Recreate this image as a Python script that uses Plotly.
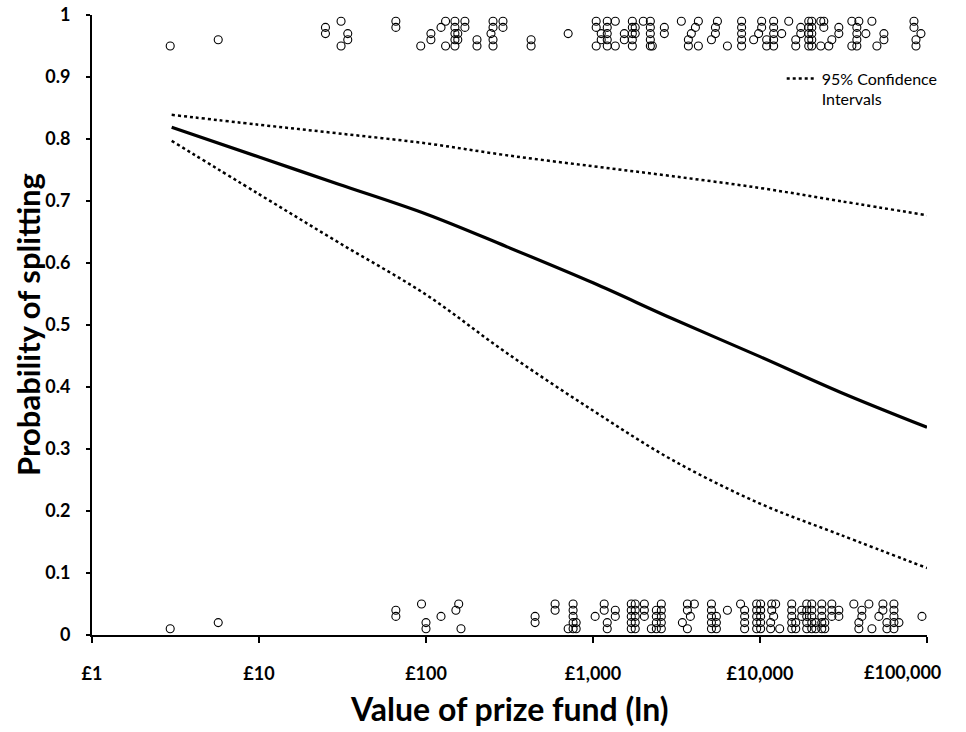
import plotly.graph_objects as go

# ---- fitted curve and confidence intervals ----
curve_x = [3, 10, 30, 100, 300, 1000, 3000, 10000, 30000, 100000]
prob_fit = [0.819, 0.771, 0.727, 0.679, 0.627, 0.568, 0.510, 0.449, 0.392, 0.335]
ci_upper = [0.839, 0.823, 0.809, 0.793, 0.774, 0.756, 0.740, 0.721, 0.700, 0.677]
ci_lower = [0.797, 0.711, 0.633, 0.549, 0.456, 0.362, 0.282, 0.212, 0.162, 0.108]

# ---- observed outcomes: split (top, jittered 0.95-0.99) ----
split_fund = [2.94, 5.7, 25, 31, 34, 66, 93, 107, 123, 131, 149, 155, 171, 202, 245, 252,
              289, 426, 710, 1045, 1120, 1217, 1360, 1540, 1720, 1790, 2000, 2205, 2265,
              2675, 3380, 3725, 3880, 4105, 4275, 5120, 5410, 5560, 6380, 7760, 9160, 9810,
              10230, 10960, 12070, 13490, 14860, 16370, 17540, 19580, 20420, 23120, 24100,
              25820, 26920, 29650, 35480, 38020, 39080, 43050, 46780, 50120, 55210, 83560,
              85900, 92000]
split_jitter = [[0.95], [0.96], [0.98, 0.97], [0.99, 0.95], [0.97, 0.96], [0.99, 0.98], [0.95],
                [0.97, 0.96], [0.98], [0.99, 0.95], [0.99, 0.98, 0.97, 0.96, 0.95], [0.97, 0.96],
                [0.99, 0.98], [0.96, 0.95], [0.97], [0.99, 0.98, 0.96, 0.95], [0.99, 0.98],
                [0.96, 0.95], [0.97], [0.99, 0.98, 0.95], [0.97, 0.96],
                [0.99, 0.98, 0.97, 0.96, 0.95], [0.99, 0.95], [0.97, 0.96],
                [0.99, 0.98, 0.97, 0.96, 0.95], [0.98, 0.97], [0.99],
                [0.99, 0.98, 0.97, 0.96, 0.95], [0.95], [0.98, 0.97], [0.99], [0.96, 0.95],
                [0.97], [0.98], [0.99, 0.95], [0.96], [0.98, 0.97], [0.99], [0.95],
                [0.99, 0.98, 0.97, 0.96, 0.95], [0.96], [0.97], [0.99, 0.98], [0.96, 0.95],
                [0.99, 0.98, 0.97, 0.96, 0.95], [0.97], [0.99], [0.96, 0.95], [0.98, 0.97],
                [0.99, 0.98, 0.97, 0.96, 0.95], [0.99, 0.98, 0.97, 0.96, 0.95], [0.99, 0.95],
                [0.99, 0.98], [0.95], [0.96], [0.98, 0.97], [0.99, 0.95],
                [0.98, 0.97, 0.96, 0.95], [0.99], [0.97], [0.99], [0.95], [0.97, 0.96],
                [0.99, 0.98], [0.96, 0.95], [0.97]]

# ---- observed outcomes: steal (bottom, jittered 0.01-0.05) ----
steal_fund = [2.94, 5.7, 66, 94, 100, 123, 151, 157, 162, 450, 593, 710, 760, 793, 1030, 1167,
              1217, 1360, 1695, 1790, 2030, 2235, 2395, 2565, 3430, 3675, 3830, 4045, 5120,
              5480, 6380, 7650, 8090, 9550, 10090, 11580, 11750, 12070, 12410, 13120, 15490,
              16370, 17780, 19050, 20420, 21580, 23440, 24430, 26920, 29650, 36480, 39080,
              40740, 44880, 46780, 51520, 54450, 57540, 63390, 67920, 93300]
steal_jitter = [[0.01], [0.02], [0.04, 0.03], [0.05], [0.02, 0.01], [0.03], [0.04], [0.05],
                [0.01], [0.03, 0.02], [0.05, 0.04], [0.01], [0.05, 0.04, 0.03, 0.02, 0.01],
                [0.02, 0.01], [0.03], [0.05, 0.04], [0.02, 0.01], [0.04, 0.03],
                [0.05, 0.04, 0.03, 0.02, 0.01], [0.05, 0.04, 0.03, 0.02, 0.01],
                [0.05, 0.04, 0.03], [0.01], [0.04, 0.03, 0.02, 0.01],
                [0.05, 0.04, 0.03, 0.02, 0.01], [0.02], [0.05, 0.04, 0.01], [0.03], [0.05],
                [0.05, 0.04, 0.03, 0.02, 0.01], [0.03, 0.02, 0.01], [0.04], [0.05],
                [0.04, 0.03, 0.02, 0.01], [0.05, 0.04, 0.03, 0.02, 0.01],
                [0.05, 0.04, 0.03, 0.02, 0.01], [0.02, 0.01], [0.05, 0.04], [0.03], [0.05],
                [0.01], [0.05, 0.04, 0.03, 0.02, 0.01], [0.02, 0.01], [0.04, 0.03],
                [0.05, 0.04, 0.03, 0.02, 0.01], [0.05, 0.04, 0.03, 0.02, 0.01], [0.02, 0.01],
                [0.05, 0.04, 0.03, 0.02, 0.01], [0.02, 0.01], [0.05, 0.04, 0.03], [0.04, 0.03],
                [0.05], [0.02, 0.01], [0.04, 0.03], [0.05], [0.01], [0.03], [0.05, 0.04],
                [0.02, 0.01], [0.05, 0.04, 0.03, 0.02, 0.01], [0.02], [0.03]]

x_tickvals = [1, 10, 100, 1000, 10000, 100000]
x_ticktext = ["£1", "£10", "£100", "£1,000", "£10,000", "£100,000"]
y_tickvals = [0, 0.1, 0.2, 0.3, 0.4, 0.5, 0.6, 0.7, 0.8, 0.9, 1]
y_ticktext = ["0", "0.1", "0.2", "0.3", "0.4", "0.5", "0.6", "0.7", "0.8", "0.9", "1"]


def flatten(funds, jitters):
    xs, ys = [], []
    for f, js in zip(funds, jitters):
        for j in js:
            xs.append(f)
            ys.append(j)
    return xs, ys


sx, sy = flatten(split_fund, split_jitter)
tx, ty = flatten(steal_fund, steal_jitter)

# the last x label is pulled inside the chart (as in the original): draw it as an annotation
x_labels = list(x_ticktext[:-1]) + [""]

FONT = "Lato, 'Open Sans', sans-serif"
TICKFONT = dict(size=18, weight="bold", family=FONT, color="black")
fig = go.Figure()

marker = dict(symbol="circle-open", size=8, color="black", line=dict(width=1.1, color="black"))
fig.add_trace(go.Scatter(x=sx, y=sy, mode="markers", marker=marker, showlegend=False,
                         cliponaxis=False))
fig.add_trace(go.Scatter(x=tx, y=ty, mode="markers", marker=marker, showlegend=False,
                         cliponaxis=False))

fig.add_trace(go.Scatter(x=curve_x, y=ci_upper, mode="lines", line_shape="spline",
                         line=dict(color="black", width=2.5, dash="dot"),
                         name="95% Confidence<br>Intervals", showlegend=True))
fig.add_trace(go.Scatter(x=curve_x, y=ci_lower, mode="lines", line_shape="spline",
                         line=dict(color="black", width=2.5, dash="dot"), showlegend=False))
fig.add_trace(go.Scatter(x=curve_x, y=prob_fit, mode="lines", line_shape="spline",
                         line=dict(color="black", width=3.2), showlegend=False))

fig.update_layout(
    width=966, height=732,
    margin=dict(l=92, r=39, t=15, b=97),
    paper_bgcolor="white", plot_bgcolor="white",
    font=dict(family=FONT, color="black"),
    legend=dict(x=0.826, y=0.925, xanchor="left", yanchor="top", valign="top",
                bgcolor="rgba(0,0,0,0)", font=dict(size=16, family=FONT)),
    xaxis=dict(type="log", range=[0, 5], tickvals=x_tickvals, ticktext=x_labels,
               automargin=False,
               showgrid=False, zeroline=False, showline=True, linecolor="black", linewidth=2,
               ticks="outside", ticklen=6, tickwidth=2, tickcolor="black",
               ticklabelstandoff=15, tickfont=TICKFONT),
    yaxis=dict(range=[0, 1], tickvals=y_tickvals, ticktext=y_ticktext,
               automargin=False,
               showgrid=False, zeroline=False, showline=True, linecolor="black", linewidth=2,
               ticks="outside", ticklen=4, tickwidth=2, tickcolor="black",
               ticklabelstandoff=12, tickfont=TICKFONT),
    annotations=[
        dict(text=x_ticktext[-1], xref="x", yref="paper", x=5, y=-0.06,
             xanchor="right", yanchor="middle", xshift=16, showarrow=False, font=TICKFONT),
        dict(text="<b>Value of prize fund (ln)</b>", xref="paper", yref="paper",
             x=0.5, y=-0.118, xanchor="center", yanchor="middle", showarrow=False,
             font=dict(size=32, family=FONT)),
        dict(text="<b>Probability of splitting</b>", xref="paper", yref="paper",
             x=-0.0766, y=0.5, xanchor="center", yanchor="middle", showarrow=False,
             textangle=-90, font=dict(size=31, family=FONT)),
    ],
)

# remove the browser's default 8px page margin so the figure fills the window exactly
fig.write_html("out.html",
               config={"displayModeBar": False},
               post_script="document.body.style.margin='0';document.body.style.overflow='hidden';")
